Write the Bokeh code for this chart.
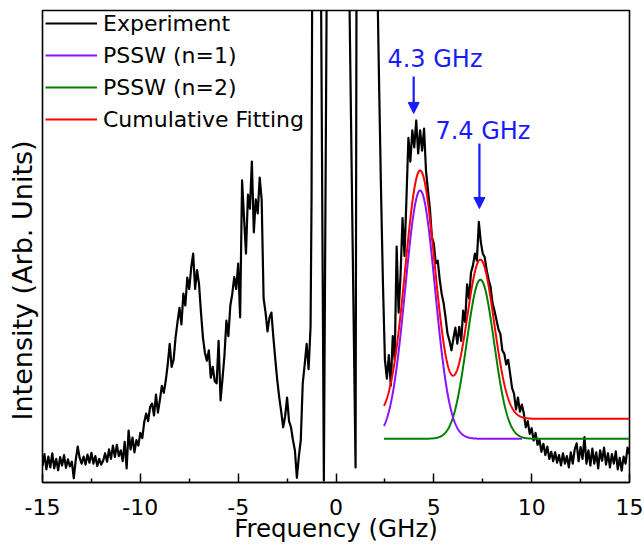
import numpy as np
from bokeh.plotting import figure
from bokeh.models import (Range1d, Legend, LegendItem, Title, Arrow, NormalHead,
                          FixedTicker, ColumnDataSource)
from bokeh.core.properties import value
from bokeh.embed import file_html
from bokeh.resources import INLINE

# ---------------- data ----------------
# Experiment, left wing: x from -15.0 in 0.1 GHz steps
exp_left_start = -15.0
exp_step = 0.1
exp_left_y = [
    3.5, 6.0, 2.8, 5.5, 3.2, 6.2, 3.0, 5.0, 2.6, 5.4,
    3.6, 5.8, 3.1, 4.9, 3.4, 4.4, 0.9, 4.8, 7.6, 5.2,
    4.0, 5.5, 3.8, 5.9, 4.2, 6.3, 4.0, 5.6, 3.5, 5.0,
    3.8, 4.6, 6.2, 4.4, 7.0, 5.0, 7.8, 5.4, 8.0, 5.6,
    6.8, 4.5, 8.6, 3.0, 11.0, 7.0, 9.5, 6.4, 9.0, 7.8,
    10.5, 9.4, 12.8, 14.6, 13.0, 16.0, 16.7, 14.2, 18.6, 14.8,
    17.5, 20.5, 19.0, 21.6, 25.0, 29.4, 24.5, 26.0, 30.7, 34.0,
    37.0, 33.5, 40.0, 37.5, 43.4, 41.0, 45.5, 48.5, 41.0, 45.0,
    42.0, 36.0, 30.7, 27.5, 25.8, 28.0, 22.2, 24.5, 21.5, 21.0,
    30.0, 17.4, 22.0, 27.0, 34.3, 31.0, 37.5, 40.0, 43.5, 41.0,
    46.4, 35.0, 64.0, 56.0, 48.5, 61.0, 58.0, 68.0, 53.0, 60.0,
    57.0, 64.6, 60.0, 39.0, 36.0, 32.0, 35.0, 36.0, 30.7, 26.0,
    21.6, 18.0, 15.0, 11.7, 14.0, 18.0, 13.0, 11.7, 9.0, 6.8,
    1.0, 5.5, 9.0, 21.0, 25.0, 29.4, 24.0, 33.0,
]
# Experiment, central (Rayleigh) region, goes far off scale
exp_center_x = [-1.25, -1.2, -1.0, -0.8, -0.62, -0.44, -0.2, 0.2, 0.6, 1.0,
                1.06, 1.3, 1.8, 2.1, 2.2, 2.3, 2.4]
exp_center_y = [60, 130, 400, 130, 0.4, 130, 400, 400, 130, 3.2,
                130, 400, 300, 110, 85, 62, 42]
# Experiment, right wing: x from 2.5 in 0.1 GHz steps
exp_right_start = 2.5
exp_right_y = [
    26, 22, 27, 20.5, 31, 26, 50, 36, 44, 56,
    48, 60, 73, 68, 74.6, 71, 76.7, 69.7, 74.6, 70.3,
    75, 66, 61.9, 58, 52, 50.6, 46.4, 47, 43, 40,
    38, 35, 31.5, 30, 28, 30.5, 32.8, 29.4, 33, 30,
    36.4, 34, 42, 39, 44.5, 46, 48.5, 47, 55.2, 51,
    48.5, 47.7, 45, 43, 41.4, 38, 36.4, 34.5, 32.5, 31.5,
    28, 27.3, 25, 26, 23, 20, 18.8, 15.5, 18, 15,
    16.5, 14.6, 11.7, 13.0, 10.3, 11.5, 8.9, 10.5, 8.0, 9.0,
    6.5, 8.2, 5.8, 7.6, 5.0, 6.5, 4.5, 6.4, 4.2, 5.8,
    3.6, 6.2, 4.0, 5.6, 3.2, 6.4, 4.0, 7.0, 8.3, 4.5,
    7.5, 5.0, 9.6, 4.0, 6.8, 3.6, 7.2, 4.0, 6.4, 3.0,
    6.8, 4.6, 7.4, 3.8, 6.2, 3.2, 6.0, 4.0, 6.6, 2.8,
    5.2, 2.5, 5.5, 4.0, 7.4, 6.0,
]

# Gaussian fit parameters of the two PSSW modes
pssw_names = ["PSSW (n=1)", "PSSW (n=2)"]
pssw_centers = [4.30, 7.38]
pssw_sigmas = [0.76, 0.70]
pssw_amps = [52.6, 33.7]
pssw_x_end = [9.5, 15.0]
pssw_baseline = 9.26
cum_baseline = 13.5
fit_x_start = 2.45
fit_x_end = 15.0

# annotations
ann_texts = ["4.3 GHz", "7.4 GHz"]
ann_text_x = [2.63, 5.08]
ann_text_y = [89.7, 74.5]
arrow_x = [3.97, 7.33]
arrow_y_start = [86.0, 71.8]
arrow_y_end = [78.2, 58.05]

x_ticks = [-15, -10, -5, 0, 5, 10, 15]
x_tick_labels = ["-15", "-10", "-5", "0", "5", "10", "15"]

# ---------------- build series ----------------
left_x = exp_left_start + exp_step * np.arange(len(exp_left_y))
right_x = exp_right_start + exp_step * np.arange(len(exp_right_y))
exp_x = np.concatenate([left_x, exp_center_x, right_x])
exp_y = np.concatenate([exp_left_y, exp_center_y, exp_right_y])


def gauss(x, c, s, a):
    return a * np.exp(-(x - c) ** 2 / (2 * s ** 2))


FONT = "DejaVu Sans"
p = figure(frame_width=587, frame_height=472, x_range=Range1d(-15, 15), y_range=Range1d(0, 100),
           output_backend="svg", toolbar_location=None,
           min_border_left=42, min_border_right=15, min_border_top=10, min_border_bottom=64)
p.background_fill_color = "white"
p.border_fill_color = "white"
p.xgrid.visible = False
p.ygrid.visible = False
p.yaxis.visible = False
p.outline_line_color = "black"
p.outline_line_width = 1.6
p.outline_line_alpha = 1.0

xa = p.xaxis[0]
minor = [(a + b) / 2 for a, b in zip(x_ticks[:-1], x_ticks[1:])]
xa.ticker = FixedTicker(ticks=x_ticks, minor_ticks=minor)
xa.major_label_overrides = {t: l for t, l in zip(x_ticks, x_tick_labels)}
xa.major_tick_in = 9
xa.major_tick_out = 0
xa.minor_tick_in = 4
xa.minor_tick_out = 0
xa.major_tick_line_width = 1.5
xa.minor_tick_line_width = 1.5
xa.axis_line_width = 1.6
xa.major_label_text_font = FONT
xa.major_label_text_font_size = "22px"
xa.major_label_text_color = "black"
xa.major_label_standoff = 16
xa.axis_label = "Frequency (GHz)"
xa.axis_label_text_font = FONT
xa.axis_label_text_font_size = "24.5px"
xa.axis_label_text_font_style = "normal"
xa.axis_label_text_color = "black"
xa.axis_label_standoff = -4

# y axis title (vertical, left of the frame)
p.add_layout(Title(text="Intensity (Arb. Units)", align="left", offset=62,
                   text_font=FONT, text_font_size="27px", text_font_style="normal",
                   text_color="black", standoff=9), "left")

# experiment
r_exp = p.line(exp_x, exp_y, line_color="black", line_width=2.2, line_join="round")

# fits
colors = ["#8a10ff", "#008000"]
fit_r = {}
for i in [1, 0]:
    xs = np.linspace(fit_x_start, pssw_x_end[i], 500)
    ys = pssw_baseline + gauss(xs, pssw_centers[i], pssw_sigmas[i], pssw_amps[i])
    fit_r[i] = p.line(xs, ys, line_color=colors[i], line_width=2.0)
xc = np.linspace(fit_x_start, fit_x_end, 700)
yc = cum_baseline + sum(gauss(xc, c, s, a) for c, s, a in zip(pssw_centers, pssw_sigmas, pssw_amps))
r_cum = p.line(xc, yc, line_color="#ff0000", line_width=2.0)

legend = Legend(items=[
    LegendItem(label="Experiment", renderers=[r_exp]),
    LegendItem(label=pssw_names[0], renderers=[fit_r[0]]),
    LegendItem(label=pssw_names[1], renderers=[fit_r[1]]),
    LegendItem(label="Cumulative Fitting", renderers=[r_cum]),
], location=(3, 350))
legend.glyph_width = 52
legend.glyph_height = 26
legend.label_height = 26
legend.label_standoff = 6
legend.spacing = 6
legend.padding = 0
legend.margin = 0
legend.border_line_alpha = 0
legend.background_fill_alpha = 0
legend.label_text_font = FONT
legend.label_text_font_size = "22px"
legend.label_text_color = "black"
p.add_layout(legend)

# annotations
BLUE = "#1a1aff"
p.text(x=ann_text_x, y=ann_text_y, text=ann_texts, text_font=value(FONT),
       text_font_size=value("24px"), text_color=BLUE, text_align="left",
       text_baseline="alphabetic")
arrow_src = ColumnDataSource(dict(x0=arrow_x, y0=arrow_y_start, x1=arrow_x, y1=arrow_y_end))
p.add_layout(Arrow(end=NormalHead(size=11, fill_color=BLUE, line_color=BLUE, line_width=1),
                   x_start="x0", y_start="y0", x_end="x1", y_end="y1", source=arrow_src,
                   line_color=BLUE, line_width=2.2))

open("out.html", "w").write(file_html(p, INLINE))
